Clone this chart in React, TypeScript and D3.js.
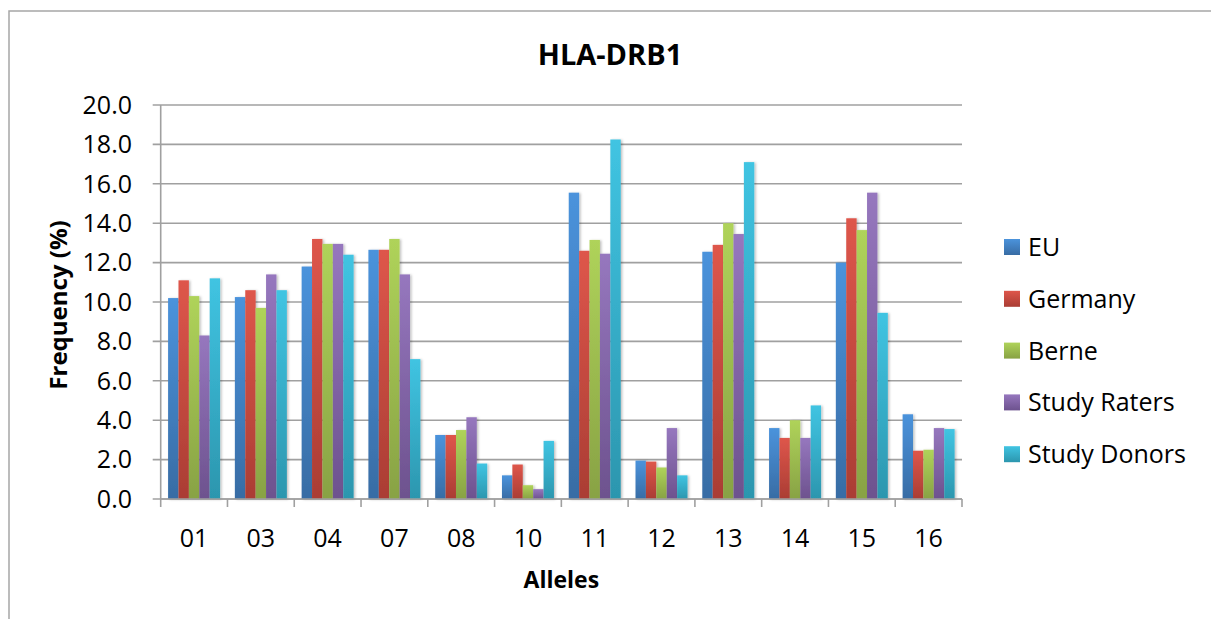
import React from "react";
import * as d3 from "d3";

const alleles = ["01", "03", "04", "07", "08", "10", "11", "12", "13", "14", "15", "16"];
const seriesNames = ["EU", "Germany", "Berne", "Study Raters", "Study Donors"];
const euValues = [10.2, 10.25, 11.8, 12.65, 3.25, 1.2, 15.55, 1.95, 12.55, 3.6, 12.0, 4.3];
const germanyValues = [11.1, 10.6, 13.2, 12.65, 3.25, 1.75, 12.6, 1.9, 12.9, 3.1, 14.25, 2.45];
const berneValues = [10.3, 9.7, 12.95, 13.2, 3.5, 0.7, 13.15, 1.6, 14.0, 4.0, 13.65, 2.5];
const ratersValues = [8.3, 11.4, 12.95, 11.4, 4.15, 0.5, 12.45, 3.6, 13.45, 3.1, 15.55, 3.6];
const donorsValues = [11.2, 10.6, 12.4, 7.1, 1.8, 2.95, 18.25, 1.2, 17.1, 4.75, 9.45, 3.55];
const yTicks = [0, 2, 4, 6, 8, 10, 12, 14, 16, 18, 20];

const seriesValues = [euValues, germanyValues, berneValues, ratersValues, donorsValues];
const colorsTop = ["#4b93dc", "#de564b", "#afd35a", "#9677be", "#40c4e2"];
const colorsBottom = ["#386ca4", "#aa3d34", "#88a244", "#6d528e", "#2c96ae"];

const FONT = "'Open Sans', 'Liberation Sans', sans-serif";

export default function App() {
  const W = 1211;
  const H = 619;
  const left = 160.7;
  const right = 962;
  const top = 105;
  const bottom = 499;

  const x = d3.scaleBand<string>().domain(alleles).range([left, right]).padding(0);
  const xs = d3
    .scaleBand<string>()
    .domain(seriesNames)
    .range([0, x.bandwidth()])
    .paddingInner(0)
    .paddingOuter(0.71);
  const y = d3.scaleLinear().domain([0, 20]).range([bottom, top]);
  const fmt = d3.format(".1f");
  const gridColor = "#a0a0a0";

  return (
    <svg
      width={W}
      height={H}
      style={{ position: "absolute", left: 0, top: 0, background: "#fff" }}
      fontFamily={FONT}
    >
      <defs>
        {seriesNames.map((s, i) => (
          <linearGradient key={s} id={`g${i}`} x1="0" y1="0" x2="0" y2="1">
            <stop offset="0%" stopColor={colorsTop[i]} />
            <stop offset="100%" stopColor={colorsBottom[i]} />
          </linearGradient>
        ))}
        <filter id="shadow" x="-30%" y="-5%" width="160%" height="110%">
          <feDropShadow dx="1.5" dy="0.5" stdDeviation="1.2" floodColor="#000" floodOpacity="0.25" />
        </filter>
      </defs>
      <rect x={0} y={0} width={W} height={H} fill="#fff" />
      {/* chart border */}
      <rect x={9} y={11} width={W + 20} height={H + 20} fill="none" stroke="#a6a6a6" strokeWidth={1.5} />

      {/* title */}
      <text x={610} y={65} textAnchor="middle" fontWeight="bold" fontSize={29} fill="#000">
        HLA-DRB1
      </text>

      {/* gridlines and y ticks */}
      {yTicks.map((t) => (
        <g key={t}>
          <line x1={left - 8} x2={right} y1={y(t)} y2={y(t)} stroke={gridColor} strokeWidth={1.6} />
          <text x={132} y={y(t)} dy="0.35em" textAnchor="end" fontSize={25} fill="#000">
            {fmt(t)}
          </text>
        </g>
      ))}

      {/* y axis line */}
      <line x1={left} x2={left} y1={top} y2={bottom} stroke={gridColor} strokeWidth={1.6} />

      {/* bars */}
      {seriesNames.map((s, si) => (
        <g key={s} filter="url(#shadow)">
          {alleles.map((a, ai) => {
            const v = seriesValues[si][ai];
            return (
              <rect
                key={a}
                x={(x(a) as number) + (xs(s) as number)}
                y={y(v)}
                width={xs.bandwidth()}
                height={y(0) - y(v)}
                fill={`url(#g${si})`}
              />
            );
          })}
        </g>
      ))}

      {/* x axis */}
      <line x1={left} x2={right} y1={bottom} y2={bottom} stroke={gridColor} strokeWidth={1.6} />
      {alleles.map((a) => (
        <line
          key={"t" + a}
          x1={x(a) as number}
          x2={x(a) as number}
          y1={bottom}
          y2={bottom + 8}
          stroke={gridColor}
          strokeWidth={1.6}
        />
      ))}
      <line x1={right} x2={right} y1={bottom} y2={bottom + 8} stroke={gridColor} strokeWidth={1.6} />
      {alleles.map((a) => (
        <text
          key={"l" + a}
          x={(x(a) as number) + x.bandwidth() / 2}
          y={547}
          textAnchor="middle"
          fontSize={25}
          fill="#000"
        >
          {a}
        </text>
      ))}

      {/* axis titles */}
      <text x={(left + right) / 2} y={588} textAnchor="middle" fontWeight="bold" fontSize={23} fill="#000">
        Alleles
      </text>
      <text
        transform={`translate(67,305) rotate(-90)`}
        textAnchor="middle"
        fontWeight="bold"
        fontSize={24}
        fill="#000"
      >
        Frequency (%)
      </text>

      {/* legend */}
      {seriesNames.map((s, i) => {
        const cy = 247 + i * 51.8;
        return (
          <g key={"lg" + s}>
            <rect x={1004} y={cy - 8} width={16} height={16} fill={`url(#g${i})`} />
            <text x={1028} y={cy + 9} fontSize={25} fill="#000">
              {s}
            </text>
          </g>
        );
      })}
    </svg>
  );
}
